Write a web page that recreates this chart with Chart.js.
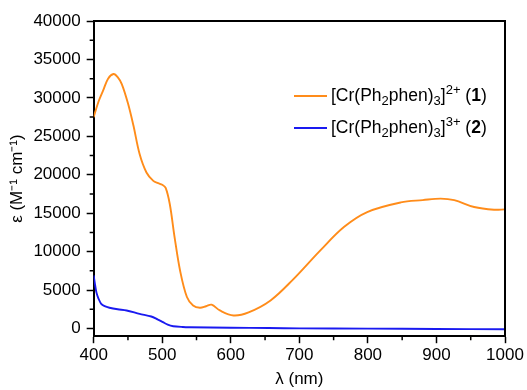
<!DOCTYPE html>
<html>
<head>
<meta charset="utf-8">
<script src="https://cdn.jsdelivr.net/npm/chart.js@4.4.0/dist/chart.umd.min.js"></script>
<style>
  body { margin: 0; background: #fff; }
  #wrap { position: relative; width: 527px; height: 390px; }
  .legend { position: absolute; left: 294px; font-family: "Liberation Sans", Arial, sans-serif; font-size: 17.5px; color: #000; white-space: nowrap; line-height: 20px; }
  .legend .ln { display: inline-block; width: 33px; height: 0; border-top: 2px solid; vertical-align: middle; margin-right: 4px; }
  .legend sub, .legend sup { font-size: 13px; }
</style>
</head>
<body>
<div id="wrap">
  <canvas id="uvChart" width="527" height="390"></canvas>
  <div class="legend" style="top: 80px;"><span class="ln" style="border-color:#FF8C1A"></span>[Cr(Ph<sub>2</sub>phen)<sub>3</sub>]<sup>2+</sup> (<b>1</b>)</div>
  <div class="legend" style="top: 112px;"><span class="ln" style="border-color:#1A1AF0"></span>[Cr(Ph<sub>2</sub>phen)<sub>3</sub>]<sup>3+</sup> (<b>2</b>)</div>
</div>
<script>
const cr2Wavelength = [400,407,414,421,429,435,441,450,458,467,477,487,494,500,505,511,518,526,536,545,555,564,572,584,604,626,658,690,731,765,799,848,880,906,926,955,984,1000];
const cr2Epsilon = [27500,29500,31000,32500,33100,32700,31800,29300,26400,22700,20300,19200,18900,18700,18300,16200,11900,7550,4100,3000,2700,2900,3100,2350,1700,2100,3650,6300,10200,13200,15150,16400,16700,16900,16700,15800,15450,15500];

const cr3Wavelength = [400,402,404,407,411,416,423,435,448,467,484,493,501,508,516,530,540,600,655,700,800,900,1000];
const cr3Epsilon = [6900,5700,4700,3900,3200,2900,2700,2500,2350,1900,1560,1200,830,500,300,200,170,100,60,20,-20,-60,-100];

const xTickValues = [400,500,600,700,800,900,1000];
const yTickValues = [0,5000,10000,15000,20000,25000,30000,35000,40000];

const toPoints = (xs, ys) => xs.map((x, i) => ({ x: x, y: ys[i] }));

// frame on top/right plus short minor ticks, Origin style
const framePlugin = {
  id: 'frame',
  afterDraw(chart) {
    const { ctx, chartArea: a, scales } = chart;
    ctx.save();
    ctx.strokeStyle = '#000';
    ctx.lineWidth = 2;
    ctx.beginPath();
    ctx.moveTo(a.left, a.top);
    ctx.lineTo(a.right, a.top);
    ctx.lineTo(a.right, a.bottom);
    ctx.stroke();
    ctx.lineWidth = 1.5;
    ctx.beginPath();
    for (let v = 2500; v < 40000; v += 5000) {
      const y = scales.y.getPixelForValue(v);
      ctx.moveTo(a.left, y);
      ctx.lineTo(a.left - 4, y);
    }
    for (let v = 450; v < 1000; v += 100) {
      const x = scales.x.getPixelForValue(v);
      ctx.moveTo(x, a.bottom);
      ctx.lineTo(x, a.bottom + 4);
    }
    ctx.stroke();
    ctx.restore();
  }
};

const tickFont = { family: '"Liberation Sans", Arial, sans-serif', size: 17 };
const plain = (v) => String(v);

new Chart(document.getElementById('uvChart').getContext('2d'), {
  type: 'line',
  data: {
    datasets: [
      {
        label: 'Cr2+',
        data: toPoints(cr2Wavelength, cr2Epsilon),
        borderColor: '#FF8C1A',
        borderWidth: 1.9,
        pointRadius: 0,
        tension: 0.35
      },
      {
        label: 'Cr3+',
        data: toPoints(cr3Wavelength, cr3Epsilon),
        borderColor: '#1A1AF0',
        borderWidth: 1.9,
        pointRadius: 0,
        tension: 0.3
      }
    ]
  },
  options: {
    responsive: false,
    animation: false,
    layout: { padding: { left: 7, right: 22, top: 21, bottom: 0 } },
    scales: {
      x: {
        type: 'linear',
        min: 400,
        max: 1000,
        afterBuildTicks: (scale) => { scale.ticks = xTickValues.map(v => ({ value: v })); },
        ticks: { color: '#000', font: tickFont, padding: 2, maxRotation: 0, callback: plain },
        grid: { drawOnChartArea: false, color: '#000', tickLength: 7, tickWidth: 1.5 },
        border: { display: true, color: '#000', width: 2 },
        title: { display: true, text: 'λ (nm)', color: '#000', font: tickFont, padding: { top: 2, bottom: 0 } }
      },
      y: {
        min: -1000,
        max: 40000,
        afterBuildTicks: (scale) => { scale.ticks = yTickValues.map(v => ({ value: v })); },
        ticks: { color: '#000', font: tickFont, padding: 6, callback: plain },
        grid: { drawOnChartArea: false, color: '#000', tickLength: 7, tickWidth: 1.5 },
        border: { display: true, color: '#000', width: 2 },
        title: { display: true, text: 'ε (M⁻¹ cm⁻¹)', color: '#000', font: tickFont, padding: { top: 0, bottom: 0 } }
      }
    },
    plugins: {
      legend: { display: false },
      tooltip: { enabled: false }
    }
  },
  plugins: [framePlugin]
});
</script>
</body>
</html>
